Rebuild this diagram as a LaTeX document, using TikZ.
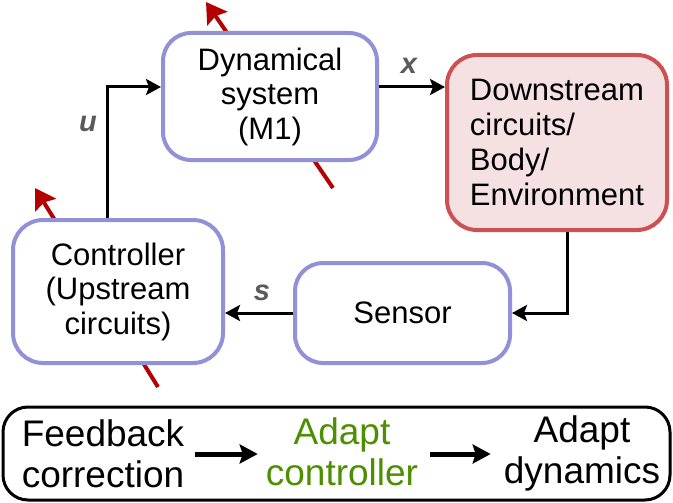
\documentclass[tikz,border=0pt]{standalone}
\usepackage{fontspec}
\setmainfont{Liberation Sans}
\usetikzlibrary{arrows.meta}
\definecolor{boxblue}{RGB}{145,145,215}
\definecolor{boxred}{RGB}{205,80,82}
\definecolor{boxpink}{RGB}{245,225,226}
\definecolor{arrred}{RGB}{180,0,0}
\definecolor{lblgray}{RGB}{90,90,90}
\definecolor{adgreen}{RGB}{77,143,0}
\begin{document}
\begin{tikzpicture}[x=1pt,y=-1pt,
  bluebox/.style={draw=boxblue, line width=4pt, fill=white, rounded corners=28pt, align=center,
    font=\fontsize{31}{34.5}\selectfont, inner sep=0pt},
  redbox/.style={draw=boxred, fill=boxpink, line width=4pt, rounded corners=30pt, align=left,
    font=\fontsize{31}{35}\selectfont, inner sep=0pt},
  conn/.style={draw=black, line width=3pt, -{Stealth[length=15pt,width=16pt,inset=3pt]}},
  redarr/.style={draw=arrred, line width=4pt, -{Stealth[length=20pt,width=24pt,inset=3pt]}},
  lbl/.style={text=lblgray, font=\fontsize{29}{33}\selectfont\bfseries\itshape, inner sep=0pt},
  btxt/.style={font=\fontsize{37}{41}\selectfont, align=center, inner sep=0pt},
  barr/.style={draw=black, line width=5pt, -{Stealth[length=18pt,width=19pt,inset=3pt]}},
]
\useasboundingbox (0,0) rectangle (673,503);
% red arrows (behind boxes)
\coordinate (r1a) at (333,188);
\coordinate (r1b) at (206,2);
\coordinate (r2a) at (158,387);
\coordinate (r2b) at (35,188);
\draw[redarr] (r1a) -- (r1b);
\draw[redarr] (r2a) -- (r2b);
% boxes
\node[bluebox, minimum width=214pt, minimum height=127pt] (ds) at (270,96.5) {Dynamical\\system\\(M1)};
\node[redbox, minimum width=220pt, minimum height=175pt] (down) at (557,142.5) {Downstream\\circuits/\\Body/\\Environment};
\node[bluebox, minimum width=215pt, minimum height=100pt] (sens) at (402.5,313) {Sensor};
\node[bluebox, minimum width=210pt, minimum height=143pt, rounded corners=30pt] (ctrl) at (118,291.5) {Controller\\(Upstream\\circuits)};
% connectors
\draw[conn] ([xshift=-11pt]ctrl.north) |- ([yshift=9.5pt]ds.west);
\draw[conn] ([yshift=9.5pt]ds.east) -- ([yshift=9.5pt]ds.east -| down.west);
\draw[conn] ([xshift=10pt]down.south) |- (sens.east);
\draw[conn] (sens.west) -- (sens.west -| ctrl.east);
% labels
\node[lbl] (lx) at (409,66) {x};
\node[lbl] (ls) at (262,293) {s};
\node[lbl] (lu) at (88,124) {u};
% bottom panel
\node[draw=black, line width=3pt, rounded corners=25pt, minimum width=667pt, minimum height=93pt, inner sep=0pt] (panel) at (336.5,453.5) {};
\node[btxt] (fb) at (103,454) {Feedback\\correction};
\node[btxt, text=adgreen] (ac) at (342,452) {Adapt\\controller};
\node[btxt] (ad) at (582,453) {Adapt\\dynamics};
\draw[barr] ([xshift=11pt]fb.east) -- ([xshift=-8pt]fb.east -| ac.west);
\draw[barr] ([xshift=12pt]ac.east |- fb.east) -- ([xshift=-13pt]fb.east -| ad.west);
\end{tikzpicture}
\end{document}
